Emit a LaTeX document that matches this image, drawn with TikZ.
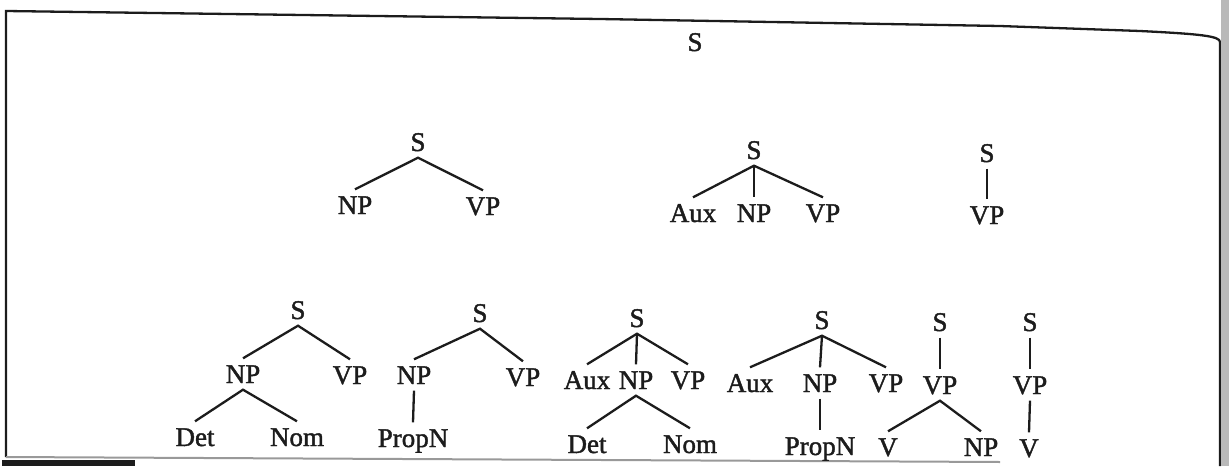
\documentclass[tikz,border=0pt]{standalone}
\usepackage{fontspec}
\setmainfont{Liberation Serif}[FakeBold=1.5]
\definecolor{ink}{HTML}{1C1C1C}
\tikzset{
  lab/.style={inner xsep=0pt, inner ysep=6.5pt, text height=18pt, text depth=0pt,
    font=\fontsize{27}{30}\selectfont, text=ink},
  edge/.style={draw=ink, line width=2.3pt},
  frame/.style={draw=ink, line width=2.3pt}
}
\begin{document}
\begin{tikzpicture}[x=1pt,y=-1pt]
\useasboundingbox (0,0) rectangle (1229,466);
% frame of the scanned figure
\coordinate (tl) at (6,11);
\coordinate (tr) at (1220,42);
\coordinate (bl) at (6,457);
\coordinate (br) at (1220,466);
\draw[frame] (bl) -- (tl) -- (600,19) -- (1000,26) -- (1140,31) .. controls (1200,34) and (1220,36) .. (tr) -- (br);
\draw[draw=gray!80, line width=2pt] (bl) -- (1000,462);
\fill[gray!55] (1221,0) rectangle (1229,466);
\fill[ink] (2,460) rectangle (135,466);

% top label
\node[lab] (top) at (695,42) {S};

% tree 1
\node[lab] (a) at (418,142) {S};
\node[lab] (anp) at (355,205) {NP};
\node[lab] (avp) at (483,206) {VP};
\draw[edge] (anp.north) -- (a.south) -- (avp.north);

% tree 2
\node[lab] (b) at (754,150) {S};
\node[lab] (baux) at (693,213) {Aux};
\node[lab] (bnp) at (754,213) {NP};
\node[lab] (bvp) at (823,213) {VP};
\draw[edge] (baux.north) -- (b.south) -- (bvp.north);
\draw[edge] (b.south) -- (bnp.north);

% tree 3
\node[lab] (c) at (987,153) {S};
\node[lab] (cvp) at (987,215) {VP};
\draw[edge] (c.south) -- (cvp.north);

% tree 4
\node[lab] (d) at (298,310) {S};
\node[lab] (dnp) at (243,374) {NP};
\node[lab] (dvp) at (350,375) {VP};
\node[lab] (ddet) at (195,437) {Det};
\node[lab] (dnom) at (297,437) {Nom};
\draw[edge] (dnp.north) -- (d.south) -- (dvp.north);
\draw[edge] (ddet.north) -- (dnp.south) -- (dnom.north);

% tree 5
\node[lab] (e) at (480,313) {S};
\node[lab] (enp) at (414,375) {NP};
\node[lab] (evp) at (523,377) {VP};
\node[lab] (eprop) at (413,438) {PropN};
\draw[edge] (enp.north) -- (e.south) -- (evp.north);
\draw[edge] (enp.south) -- (eprop.north);

% tree 6
\node[lab] (f) at (637,318) {S};
\node[lab] (faux) at (587,380) {Aux};
\node[lab] (fnp) at (636,380) {NP};
\node[lab] (fvp) at (688,380) {VP};
\node[lab] (fdet) at (587,444) {Det};
\node[lab] (fnom) at (690,444) {Nom};
\draw[edge] (faux.north) -- (f.south) -- (fvp.north);
\draw[edge] (f.south) -- (fnp.north);
\draw[edge] (fdet.north) -- (fnp.south) -- (fnom.north);

% tree 7
\node[lab] (g) at (822,320) {S};
\node[lab] (gaux) at (750,383) {Aux};
\node[lab] (gnp) at (820,383) {NP};
\node[lab] (gvp) at (886,383) {VP};
\node[lab] (gprop) at (820,446) {PropN};
\draw[edge] (gaux.north) -- (g.south) -- (gvp.north);
\draw[edge] (g.south) -- (gnp.north);
\draw[edge] (gnp.south) -- (gprop.north);

% tree 8
\node[lab] (h) at (940,322) {S};
\node[lab] (hvp) at (940,385) {VP};
\node[lab] (hv) at (888,447) {V};
\node[lab] (hnp) at (981,447) {NP};
\draw[edge] (h.south) -- (hvp.north);
\draw[edge] (hv.north) -- (hvp.south) -- (hnp.north);

% tree 9
\node[lab] (k) at (1030,322) {S};
\node[lab] (kvp) at (1030,385) {VP};
\node[lab] (kv) at (1029,448) {V};
\draw[edge] (k.south) -- (kvp.north);
\draw[edge] (kvp.south) -- (kv.north);
\end{tikzpicture}
\end{document}
